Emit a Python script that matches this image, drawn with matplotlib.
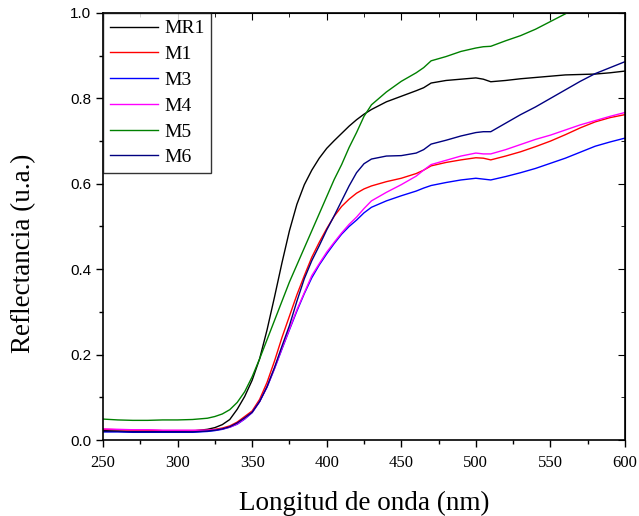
import numpy as np
import matplotlib
matplotlib.use("Agg")
import matplotlib.pyplot as plt
from matplotlib.ticker import MultipleLocator

wl = [250, 260, 270, 280, 290, 300, 310, 320, 325, 330, 335, 340, 345, 350, 355,
      360, 365, 370, 375, 380, 385, 390, 395, 400, 405, 410, 415, 420, 425, 430,
      440, 450, 460, 465, 470, 480, 490, 500, 505, 510, 520, 530, 540, 550, 560,
      570, 580, 590, 600]

mr1 = [0.022, 0.021, 0.020, 0.020, 0.020, 0.020, 0.021, 0.025, 0.029, 0.036, 0.048,
       0.072, 0.102, 0.140, 0.190, 0.258, 0.335, 0.415, 0.490, 0.552, 0.598, 0.632,
       0.660, 0.683, 0.701, 0.718, 0.735, 0.750, 0.763, 0.774, 0.792, 0.805, 0.818,
       0.825, 0.836, 0.842, 0.845, 0.848, 0.845, 0.839, 0.842, 0.846, 0.849, 0.852,
       0.855, 0.856, 0.857, 0.860, 0.864]

m1 = [0.025, 0.024, 0.023, 0.023, 0.022, 0.022, 0.022, 0.023, 0.025, 0.028, 0.033,
      0.042, 0.055, 0.068, 0.095, 0.135, 0.185, 0.240, 0.290, 0.340, 0.385, 0.428,
      0.463, 0.495, 0.524, 0.547, 0.564, 0.578, 0.588, 0.595, 0.605, 0.613, 0.624,
      0.632, 0.642, 0.650, 0.656, 0.661, 0.660, 0.656, 0.665, 0.675, 0.687, 0.700,
      0.715, 0.731, 0.745, 0.755, 0.762]

m3 = [0.019, 0.019, 0.018, 0.018, 0.018, 0.018, 0.018, 0.020, 0.022, 0.025, 0.030,
      0.037, 0.049, 0.064, 0.090, 0.124, 0.167, 0.213, 0.258, 0.302, 0.343, 0.380,
      0.410, 0.436, 0.460, 0.482, 0.500, 0.515, 0.532, 0.545, 0.560, 0.572, 0.583,
      0.590, 0.596, 0.603, 0.609, 0.613, 0.611, 0.609, 0.617, 0.626, 0.636, 0.648,
      0.660, 0.674, 0.688, 0.698, 0.707]

m4 = [0.026, 0.025, 0.024, 0.024, 0.023, 0.023, 0.023, 0.023, 0.024, 0.026, 0.030,
      0.038, 0.050, 0.065, 0.090, 0.125, 0.168, 0.215, 0.260, 0.305, 0.345, 0.385,
      0.413, 0.440, 0.463, 0.485, 0.505, 0.522, 0.542, 0.560, 0.580, 0.598, 0.618,
      0.632, 0.645, 0.655, 0.665, 0.672, 0.670, 0.670, 0.680, 0.692, 0.704, 0.714,
      0.726, 0.738, 0.748, 0.758, 0.767]

m5 = [0.049, 0.047, 0.046, 0.046, 0.047, 0.047, 0.048, 0.051, 0.055, 0.061, 0.071,
      0.088, 0.113, 0.148, 0.190, 0.235, 0.280, 0.325, 0.370, 0.410, 0.450, 0.490,
      0.530, 0.570, 0.610, 0.645, 0.685, 0.720, 0.758, 0.785, 0.815, 0.840, 0.860,
      0.872, 0.888, 0.898, 0.910, 0.918, 0.921, 0.922, 0.935, 0.947, 0.962, 0.980,
      0.998, 1.020, np.nan, np.nan, np.nan]

m6 = [0.020, 0.020, 0.019, 0.019, 0.019, 0.019, 0.019, 0.021, 0.023, 0.026, 0.031,
      0.040, 0.052, 0.065, 0.090, 0.125, 0.170, 0.220, 0.268, 0.325, 0.378, 0.420,
      0.455, 0.492, 0.525, 0.560, 0.595, 0.626, 0.647, 0.658, 0.665, 0.666, 0.672,
      0.680, 0.693, 0.702, 0.712, 0.720, 0.722, 0.722, 0.742, 0.762, 0.780, 0.800,
      0.820, 0.840, 0.858, 0.872, 0.886]

labels = ["MR1", "M1", "M3", "M4", "M5", "M6"]
series = [mr1, m1, m3, m4, m5, m6]
colors = ["#000000", "#ff0000", "#0000ff", "#ff00ff", "#008000", "#000080"]

serif = ["Liberation Serif", "DejaVu Serif"]
sans = ["Liberation Sans", "DejaVu Sans"]

fig = plt.figure(figsize=(6.39, 5.16), dpi=100)
ax = fig.add_axes([103 / 639, 1 - 440 / 516, 522 / 639, 427 / 516])

for lab, ys, c in zip(labels, series, colors):
    ax.plot(wl, ys, color=c, lw=1.0, label=lab)

ax.set_xlim(250, 600)
ax.set_ylim(0, 1.0)
ax.xaxis.set_major_locator(MultipleLocator(50))
ax.xaxis.set_minor_locator(MultipleLocator(25))
ax.yaxis.set_major_locator(MultipleLocator(0.2))
ax.yaxis.set_minor_locator(MultipleLocator(0.1))
ax.yaxis.set_major_formatter(matplotlib.ticker.FormatStrFormatter("%.1f"))

ax.tick_params(which="major", direction="out", length=5, width=1)
ax.tick_params(which="minor", direction="out", length=3, width=1)
ax.tick_params(axis="x", which="major", pad=6)
for t in ax.get_xticklabels():
    t.set_fontfamily(serif)
    t.set_fontsize(12)
for t in ax.get_yticklabels():
    t.set_fontfamily(sans)
    t.set_fontsize(11)

for s in ax.spines.values():
    s.set_linewidth(1.2)

secx = ax.secondary_xaxis("top")
secx.xaxis.set_major_locator(MultipleLocator(50))
secx.xaxis.set_minor_locator(MultipleLocator(25))
secx.tick_params(which="major", direction="in", length=5, labeltop=False)
secx.tick_params(which="minor", direction="in", length=3)
secy = ax.secondary_yaxis("right")
secy.yaxis.set_major_locator(MultipleLocator(0.2))
secy.yaxis.set_minor_locator(MultipleLocator(0.1))
secy.tick_params(which="major", direction="in", length=5, labelright=False)
secy.tick_params(which="minor", direction="in", length=3)

ax.set_xlabel("Longitud de onda (nm)", fontfamily=serif, fontsize=19.5, labelpad=14)
ax.set_ylabel("Reflectancia (u.a.)", fontfamily=serif, fontsize=19.5)
ax.yaxis.set_label_coords(-0.128, 0.438)

leg = ax.legend(loc="upper left", bbox_to_anchor=(0, 1), borderaxespad=0,
                prop={"family": serif, "size": 14}, frameon=True, fancybox=False,
                handlelength=2.5, handletextpad=0.3, labelspacing=0.42,
                borderpad=0.35)
leg.get_frame().set_edgecolor("black")
leg.get_frame().set_linewidth(1.0)

fig.savefig("out.png", dpi=100)
